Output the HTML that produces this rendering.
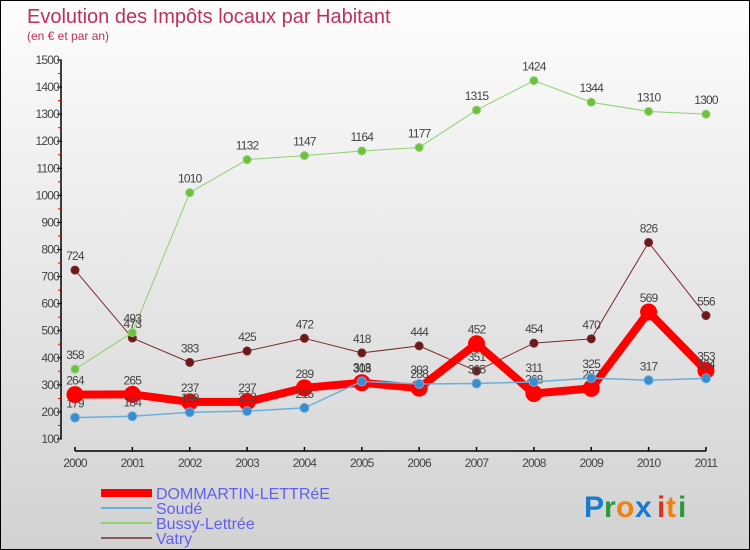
<!DOCTYPE html>
<html><head><meta charset="utf-8"><style>
html,body{margin:0;padding:0}
body{width:750px;height:550px;overflow:hidden;font-family:"Liberation Sans",sans-serif}
#wrap{position:relative;width:748px;height:548px;border:1px solid #000;background:linear-gradient(#fdfdfd,#d2d2d2)}
svg{position:absolute;left:0;top:0}
</style></head><body>
<div id="wrap">
<svg id="chart" width="748" height="548">
<text x="26" y="22" font-size="20" fill="#c0305a">Evolution des Impôts locaux par Habitant</text>
<text x="26" y="39" font-size="12" fill="#c0305a">(en € et par an)</text>
<g id="axes"></g><g id="series"></g><g id="legend"></g>
<g font-size="30" font-weight="bold">
<text x="583" y="516" fill="#1a7ad0">P</text><text x="603" y="516" fill="#2a9a3a">r</text><text x="615" y="516" fill="#f08010">o</text><text x="634" y="516" fill="#1a7ad0">x</text><text x="656" y="516" fill="#e03020">i</text><text x="665" y="516" fill="#f08010">t</text><text x="677" y="516" fill="#2a9a3a">i</text>
</g>
</svg></div>
<script>
const years=["2000","2001","2002","2003","2004","2005","2006","2007","2008","2009","2010","2011"];
const yTicks=[100,200,300,400,500,600,700,800,900,1000,1100,1200,1300,1400,1500];
const dommartin=[264,265,237,237,289,308,288,452,268,287,569,353];
const soude=[179,184,199,203,215,313,303,305,311,325,317,324];
const bussy=[358,493,1010,1132,1147,1164,1177,1315,1424,1344,1310,1300];
const vatry=[724,473,383,425,472,418,444,351,454,470,826,556];
const NS="http://www.w3.org/2000/svg";
function X(i){return 74+i*57.36;}
function Y(v){return 438-(v-100)*0.2707;}
function mk(p,t,a){const e=document.createElementNS(NS,t);for(const k in a)e.setAttribute(k,a[k]);p.appendChild(e);return e;}
const ax=document.getElementById('axes');
let l=mk(ax,'line',{x1:60,y1:Y(1500),x2:60,y2:Y(100),stroke:'#000','stroke-width':1.5});


yTicks.forEach(v=>{
 const t=mk(ax,'line',{x1:56,y1:Y(v),x2:61,y2:Y(v),stroke:'#000'});
 
 
 if(v<1500){const m=mk(ax,'line',{x1:57,y1:Y(v+50),x2:60,y2:Y(v+50),stroke:'#e00'});
 
 }
 const tx=mk(ax,'text',{x:58,y:Y(v)+4,'text-anchor':'end','font-size':12,fill:'#444','letter-spacing':'-0.8'});
 tx.textContent=v;
 
 
});
l=mk(ax,'line',{x1:X(0),y1:450,x2:X(11),y2:450,stroke:'#000','stroke-width':1.5});


years.forEach((y,i)=>{
 const t=mk(ax,'line',{x1:X(i),y1:446,x2:X(i),y2:450,stroke:'#000','stroke-width':1.5});
 
 
 const tx=mk(ax,'text',{x:X(i),y:466,'text-anchor':'middle','font-size':12,fill:'#444','letter-spacing':'-0.8'});
 tx.textContent=y;
 
 
});
const sg=document.getElementById('series');
function draw(name,data,color,w,r,dot){
 const g=mk(sg,'g',{});
 
 
 const pl=mk(g,'polyline',{points:data.map((v,i)=>X(i)+','+Y(v)).join(' '),fill:'none',stroke:color,'stroke-width':w,'stroke-linejoin':'round'});
 
 
 data.forEach((v,i)=>{
  const c=mk(g,'circle',{cx:X(i),cy:Y(v),r:r,fill:dot,stroke:color,'stroke-width':1});
  
  
  const t=mk(g,'text',{x:X(i),y:Y(v)-10,'text-anchor':'middle','font-size':12,fill:'#444','letter-spacing':'-0.8'});
  t.textContent=v;
  
  
 });
}
draw('vatry',vatry,'#7a2a2a',1,4,'#6a1a1a');
draw('bussy',bussy,'#8fd070',1,4,'#70c040');
draw('dommartin',dommartin,'#ff0000',8,8,'#ff0000');
draw('soude',soude,'#6aaedc',1.5,4.5,'#3a8ccc');
const lg=document.getElementById('legend');
[['DOMMARTIN-LETTRéE','#ff0000',8],['Soudé','#6aaedc',2],['Bussy-Lettrée','#8fd070',2],['Vatry','#8a5a5a',2]].forEach((d,i)=>{
 const y=492+i*15;
 const e=mk(lg,'line',{x1:100,y1:y+(i==0?0:0),x2:151,y2:y,stroke:d[1],'stroke-width':d[2]});
 
 
 const t=mk(lg,'text',{x:155,y:y+6,'font-size':16,fill:'#6060f0'});
 t.textContent=d[0];
 
 
});
</script>
</body></html>
